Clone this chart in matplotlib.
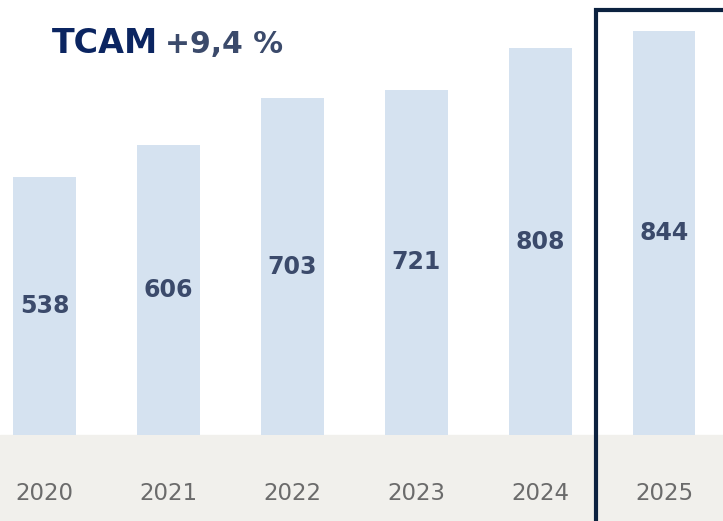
import matplotlib
matplotlib.use("Agg")
import matplotlib.pyplot as plt
from matplotlib.patches import Rectangle

years = ["2020", "2021", "2022", "2023", "2024", "2025"]
values = [538, 606, 703, 721, 808, 844]
title_a = "TCAM"
title_b = "+9,4 %"

W, H, DPI = 723, 521, 100
fig = plt.figure(figsize=(W / DPI, H / DPI), dpi=DPI)
ax = fig.add_axes([0, 0, 1, 1])
ax.set_axis_off()

px_unit = 2.089  # data units per pixel
ax.set_xlim(-0.359, 5.476)
ax.set_ylim(-86 * px_unit, 435 * px_unit)

bar_color = "#d5e2f0"
label_color = "#3b4a6b"
ax.axhspan(-86 * px_unit, 0, color="#f1f0ec", zorder=0)

x = list(range(len(years)))
ax.bar(x, values, width=0.508, color=bar_color, zorder=1)
for xi, v, yr in zip(x, values, years):
    ax.text(xi, v / 2, str(v), ha="center", va="center", fontsize=17,
            fontweight="bold", color=label_color, zorder=3)
    ax.text(xi, -59 * px_unit, yr, ha="center", va="center", fontsize=16.5,
            color="#6b6b6b", zorder=3)

rect = Rectangle((596 / W, -0.05), 0.5, 1 - 10 / H + 0.05, transform=ax.transAxes,
                 fill=False, edgecolor="#0c2240", linewidth=3, zorder=4, clip_on=True)
ax.add_patch(rect)

fig.text(52 / W, 1 - 53 / H, title_a, fontsize=24, fontweight="bold",
         color="#0b2561", ha="left", va="baseline")
fig.text(283 / W, 1 - 53 / H, title_b, fontsize=21.5, fontweight="bold",
         color="#3b4a6b", ha="right", va="baseline")

fig.savefig("out.png", dpi=DPI)
